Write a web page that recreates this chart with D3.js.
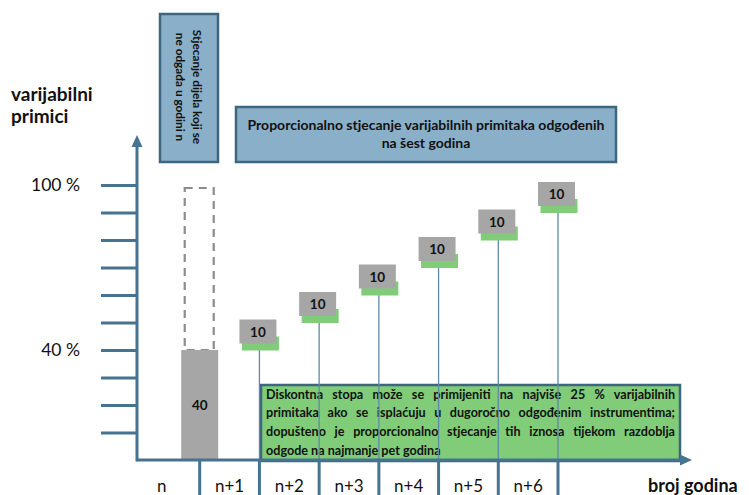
<!DOCTYPE html>
<html>
<head>
<meta charset="utf-8">
<script src="https://cdn.jsdelivr.net/npm/d3@7"></script>
<style>
  body { margin: 0; background: #fff; }
  svg { display: block; }
  text { font-family: Lato, "Open Sans", sans-serif; fill: #111; }
</style>
</head>
<body>
<svg id="chart" width="749" height="495"></svg>
<script>
// ---- data ----
const years = ["n", "n+1", "n+2", "n+3", "n+4", "n+5", "n+6"];
const upfrontShare = 40;                          // vested in year n
const deferredShares = [10, 10, 10, 10, 10, 10];  // vested in years n+1 .. n+6
const yTickValues = [10, 20, 30, 40, 50, 60, 70, 80, 90, 100];
const yTickLabels = { 40: "40 %", 100: "100 %" };
const yAxisTitle = ["varijabilni", "primici"];
const xAxisTitle = "broj godina";
const upfrontNote = ["Stjecanje dijela koji se", "ne odgađa u godini n"];
const deferralNote = ["Proporcionalno stjecanje varijabilnih primitaka odgođenih", "na šest godina"];
const discountNote = [
  "Diskontna stopa može se primijeniti na najviše 25 % varijabilnih",
  "primitaka ako se isplaćuju u dugoročno odgođenim instrumentima;",
  "dopušteno je proporcionalno stjecanje tih iznosa tijekom razdoblja",
  "odgode na najmanje pet godina"
];

// ---- styles ----
const axisColor = "#46738f";
const noteFill = "#8aafc8";
const noteStroke = "#3d6680";
const barGrey = "#a6a6a6";
const green = "#80cc78";

const svg = d3.select("#chart");

const x = d3.scaleBand().domain(years).range([140, 558]).padding(0);
const y = d3.scaleLinear().domain([0, 100]).range([460, 185]);
const bw = x.bandwidth();
const edge = d => x(d) + bw;   // marks sit on the right edge of each year

// ---- notes at the top ----
const vNote = svg.append("g");
vNote.append("rect").attr("x", 160).attr("y", 14).attr("width", 58).attr("height", 148)
  .attr("fill", noteFill).attr("stroke", noteStroke).attr("stroke-width", 2.5);
const vText = vNote.append("text")
  .attr("transform", "translate(189,87) rotate(90)")
  .attr("text-anchor", "middle").attr("font-weight", 700).attr("font-size", 11.8);
upfrontNote.forEach((t, i) => {
  vText.append("tspan").attr("x", 0).attr("y", i === 0 ? -4 : 13).text(t);
});

const hNote = svg.append("g");
hNote.append("rect").attr("x", 236).attr("y", 107).attr("width", 380).attr("height", 55)
  .attr("fill", noteFill).attr("stroke", noteStroke).attr("stroke-width", 2.5);
deferralNote.forEach((t, i) => {
  hNote.append("text").attr("x", 426).attr("y", 130 + i * 18)
    .attr("text-anchor", "middle").attr("font-weight", 700).attr("font-size", 14).text(t);
});

// ---- y axis title ----
yAxisTitle.forEach((t, i) => {
  svg.append("text").attr("x", 11).attr("y", 101 + i * 22)
    .attr("font-weight", 700).attr("font-size", 19).text(t);
});

// ---- y axis ----
const yAxis = d3.axisLeft(y).tickValues(yTickValues).tickSize(36).tickFormat("");
const gy = svg.append("g").attr("transform", "translate(137,0)").call(yAxis);
gy.select(".domain").remove();
gy.selectAll(".tick line").attr("stroke", axisColor).attr("stroke-width", 3);

svg.append("line").attr("x1", 137).attr("x2", 137).attr("y1", 146).attr("y2", 461.5)
  .attr("stroke", axisColor).attr("stroke-width", 3);
svg.append("path").attr("d", "M131.5,147 L137,135 L142.5,147 Z").attr("fill", axisColor);

Object.entries(yTickLabels).forEach(([v, t]) => {
  svg.append("text").attr("x", 80).attr("y", y(+v) + 6)
    .attr("text-anchor", "end").attr("font-size", 17.5).text(t);
});

// ---- upfront bar (year n) with dashed outline of the full 100 % ----
const cx0 = edge(years[0]);
svg.append("rect")
  .attr("x", cx0 - 15).attr("y", y(100) + 3)
  .attr("width", 29).attr("height", y(upfrontShare) - y(100) - 3)
  .attr("fill", "none").attr("stroke", "#8c8c8c").attr("stroke-width", 2.2)
  .attr("stroke-dasharray", "8,6");
svg.append("rect")
  .attr("x", cx0 - 18.5).attr("y", y(upfrontShare))
  .attr("width", 37).attr("height", y(0) - y(upfrontShare))
  .attr("fill", barGrey);
svg.append("text").attr("x", cx0).attr("y", (y(upfrontShare) + y(0)) / 2 + 5)
  .attr("text-anchor", "middle").attr("font-weight", 700).attr("font-size", 13.5).text(upfrontShare);

// ---- discount note box ----
const dNote = svg.append("g");
dNote.append("rect").attr("x", 261).attr("y", 385).attr("width", 419).attr("height", 76)
  .attr("fill", green).attr("stroke", noteStroke).attr("stroke-width", 2.5);
const lineWidth = 409;
discountNote.forEach((t, i) => {
  const el = dNote.append("text").attr("x", 266).attr("y", 398.5 + i * 18.7)
    .attr("font-weight", 700).attr("font-size", 12.6).text(t);
  if (i < discountNote.length - 1) {
    const len = el.node().getComputedTextLength();
    const gaps = t.split(" ").length - 1;
    el.attr("word-spacing", Math.max(0, (lineWidth - len) / gaps));
  }
});

// ---- deferred tranches ----
let cum = upfrontShare;
const tranches = deferredShares.map((v, i) => {
  const prev = cum;
  cum += v;
  return { year: years[i + 1], value: v, prev, cum };
});

const tg = svg.append("g").selectAll("g").data(tranches).join("g");
tg.append("line")
  .attr("x1", d => edge(d.year)).attr("x2", d => edge(d.year))
  .attr("y1", d => y(d.cum) + 25).attr("y2", 460)
  .attr("stroke", "#5e8aa6").attr("stroke-width", 1.3);
tg.append("rect")
  .attr("x", d => edge(d.year) - 18.5 + 1).attr("y", d => y(d.cum) + 14)
  .attr("width", 37).attr("height", 14).attr("fill", green);
tg.append("rect")
  .attr("x", d => edge(d.year) - 20).attr("y", d => y(d.cum) - 3)
  .attr("width", 37).attr("height", 24).attr("fill", barGrey);
tg.append("text")
  .attr("x", d => edge(d.year) - 1.5).attr("y", d => y(d.cum) + 14)
  .attr("text-anchor", "middle").attr("font-weight", 700).attr("font-size", 13.5)
  .text(d => d.value);

// ---- x axis ----
svg.append("line").attr("x1", 137).attr("x2", 682).attr("y1", 460).attr("y2", 460)
  .attr("stroke", axisColor).attr("stroke-width", 3);
svg.append("path").attr("d", "M680,454.5 L692,460 L680,465.5 Z").attr("fill", axisColor);

svg.append("g").selectAll("line").data(years).join("line")
  .attr("x1", d => edge(d)).attr("x2", d => edge(d))
  .attr("y1", 460).attr("y2", 495)
  .attr("stroke", axisColor).attr("stroke-width", 3);

svg.append("g").selectAll("text").data(years).join("text")
  .attr("x", d => x(d) + bw / 2 - (d === years[0] ? 8 : 0)).attr("y", 492)
  .attr("text-anchor", "middle").attr("font-size", 17)
  .text(d => d);

svg.append("text").attr("x", 648).attr("y", 492)
  .attr("font-weight", 700).attr("font-size", 18).text(xAxisTitle);
</script>
</body>
</html>
